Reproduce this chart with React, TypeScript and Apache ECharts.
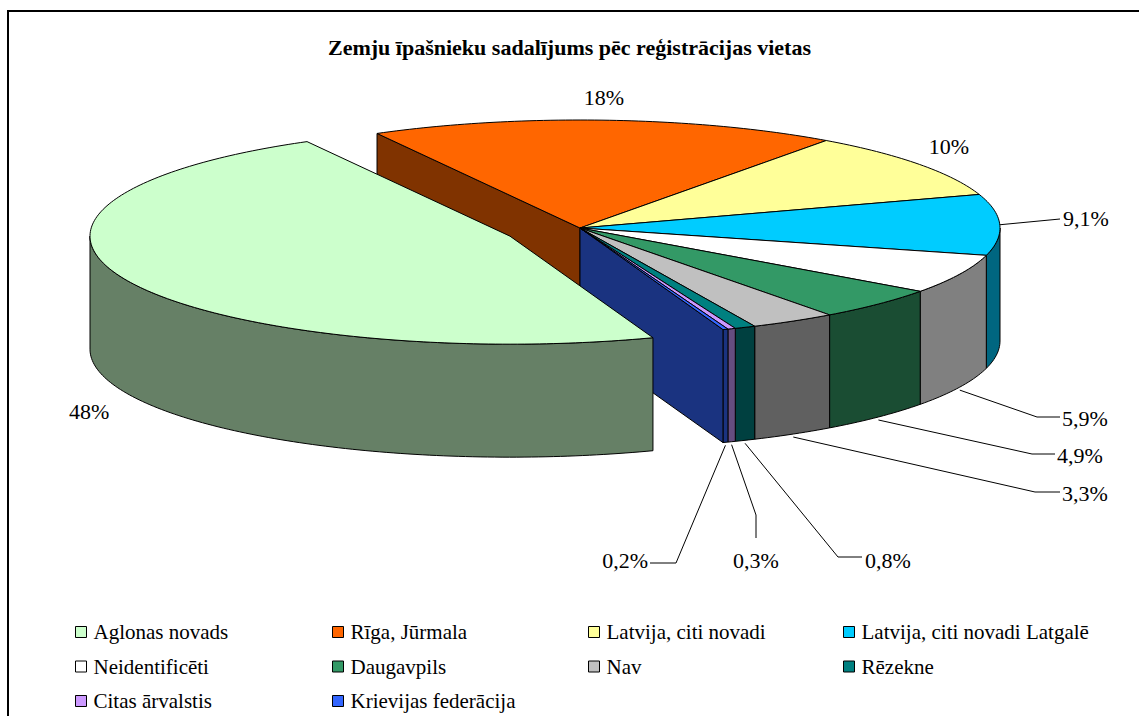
import React, { useEffect, useRef } from "react";
import * as echarts from "echarts";

// ---------- data ----------
const TITLE = "Zemju īpašnieku sadalījums pēc reģistrācijas vietas";
const CATEGORIES = [
  "Aglonas novads",
  "Rīga, Jūrmala",
  "Latvija, citi novadi",
  "Latvija, citi novadi Latgalē",
  "Neidentificēti",
  "Daugavpils",
  "Nav",
  "Rēzekne",
  "Citas ārvalstis",
  "Krievijas federācija",
];
const VALUES = [47.5, 18, 10, 9.1, 5.9, 4.9, 3.3, 0.8, 0.3, 0.2];
const COLORS = [
  "#CCFFCC",
  "#FF6600",
  "#FFFF99",
  "#00CCFF",
  "#FFFFFF",
  "#339966",
  "#C0C0C0",
  "#008080",
  "#CC99FF",
  "#3366FF",
];
const EXPLODE = [0.183, 0, 0, 0, 0, 0, 0, 0, 0, 0];

// ---------- layout ----------
const FONT = "Liberation Serif";
const PIE = { cx: 580, cy: 228, rx: 420, ry: 108, depth: 113, startAngle: 160.1 };
const LEGEND_COLUMNS = [
  [0, 4, 8],
  [1, 5, 9],
  [2, 6],
  [3, 7],
];
const LEGEND_X = [75, 332, 588, 843];
type LabelLayout = {
  x: number;
  y: number;
  align: "left" | "center" | "right";
  anchor?: "top" | "bottom";
  path?: number[][];
};
const LABEL_LAYOUT: LabelLayout[] = [
  { x: 69, y: 411, align: "left" },
  { x: 604, y: 97, align: "center" },
  { x: 949, y: 146, align: "center" },
  { x: 1063, y: 218, align: "left", anchor: "top", path: [[1060, 219]] },
  { x: 1062, y: 418, align: "left", anchor: "bottom", path: [[1037, 417], [1060, 417]] },
  { x: 1057, y: 455, align: "left", anchor: "bottom", path: [[1032, 454], [1055, 454]] },
  { x: 1062, y: 493, align: "left", anchor: "bottom", path: [[1035, 492], [1060, 492]] },
  { x: 865, y: 560, align: "left", anchor: "bottom", path: [[838, 557], [862, 557]] },
  { x: 756, y: 560, align: "center", anchor: "bottom", path: [[756, 515], [756, 538]] },
  { x: 648, y: 560, align: "right", anchor: "bottom", path: [[676, 563], [650, 563]] },
];

function shade(hex: string): string {
  const n = parseInt(hex.slice(1), 16);
  const r = Math.round(((n >> 16) & 255) / 2);
  const g = Math.round(((n >> 8) & 255) / 2);
  const b = Math.round((n & 255) / 2);
  return "rgb(" + r + "," + g + "," + b + ")";
}

function formatPct(v: number, total: number): string {
  const p = (v / total) * 100;
  const s = p >= 10 ? String(Math.round(p)) : p.toFixed(1);
  return s.replace(".", ",") + "%";
}

const TOTAL = VALUES.reduce((a, b) => a + b, 0);
const SLICES = (() => {
  let cum = 0;
  return VALUES.map((v, i) => {
    const a0 = PIE.startAngle + (cum / TOTAL) * 360;
    cum += v;
    const a1 = PIE.startAngle + (cum / TOTAL) * 360;
    const mid = (a0 + a1) / 2;
    const mr = (mid * Math.PI) / 180;
    const d = EXPLODE[i];
    return {
      a0,
      a1,
      mid,
      ox: PIE.rx * d * Math.sin(mr),
      oy: -PIE.ry * d * Math.cos(mr),
      exploded: d > 0,
    };
  });
})();

function pt(a: number, ox: number, oy: number, down: boolean): number[] {
  const r = (a * Math.PI) / 180;
  return [
    PIE.cx + ox + PIE.rx * Math.sin(r),
    PIE.cy + oy - PIE.ry * Math.cos(r) + (down ? PIE.depth : 0),
  ];
}

function arcPts(a0: number, a1: number, ox: number, oy: number, down: boolean): number[][] {
  const n = Math.max(1, Math.ceil(Math.abs(a1 - a0) / 1));
  const out: number[][] = [];
  for (let k = 0; k <= n; k++) out.push(pt(a0 + ((a1 - a0) * k) / n, ox, oy, down));
  return out;
}

function renderSlice(i: number) {
  const s = SLICES[i];
  const n = SLICES.length;
  const top = COLORS[i];
  const side = shade(top);
  const base = s.exploded ? 10 : 0;
  const edge = { stroke: "#000", lineWidth: 1, lineJoin: "round" as const };
  const children: any[] = [];
  const c0 = [PIE.cx + s.ox, PIE.cy + s.oy];
  const c1 = [PIE.cx + s.ox, PIE.cy + s.oy + PIE.depth];

  // outer wall (front half only)
  for (let k = -1; k <= 2; k++) {
    const lo = 90 + 360 * k;
    const hi = 270 + 360 * k;
    const a = Math.max(s.a0, lo);
    const b = Math.min(s.a1, hi);
    if (b > a) {
      const pts = arcPts(a, b, s.ox, s.oy, false).concat(arcPts(b, a, s.ox, s.oy, true));
      children.push({
        type: "polygon",
        shape: { points: pts },
        style: { fill: side, ...edge },
        z2: base + 1,
      });
    }
  }
  // radial faces at gaps
  const prev = SLICES[(i - 1 + n) % n];
  const next = SLICES[(i + 1) % n];
  if ((s.exploded || prev.exploded) && Math.sin((s.a0 * Math.PI) / 180) < 0) {
    const p0 = pt(s.a0, s.ox, s.oy, false);
    const p1 = pt(s.a0, s.ox, s.oy, true);
    children.push({
      type: "polygon",
      shape: { points: [c0, p0, p1, c1] },
      style: { fill: side, ...edge },
      z2: base + 2,
    });
  }
  if ((s.exploded || next.exploded) && Math.sin((s.a1 * Math.PI) / 180) > 0) {
    const p0 = pt(s.a1, s.ox, s.oy, false);
    const p1 = pt(s.a1, s.ox, s.oy, true);
    children.push({
      type: "polygon",
      shape: { points: [c0, p0, p1, c1] },
      style: { fill: side, ...edge },
      z2: base + 2,
    });
  }
  // top face
  children.push({
    type: "polygon",
    shape: { points: [c0].concat(arcPts(s.a0, s.a1, s.ox, s.oy, false)) },
    style: { fill: top, ...edge },
    z2: base + 3,
  });

  // label
  const L = LABEL_LAYOUT[i];
  if (L.anchor && L.path) {
    const anc = pt(s.mid, s.ox, s.oy, L.anchor === "bottom");
    if (L.anchor === "bottom") anc[1] += 3;
    children.push({
      type: "polyline",
      shape: { points: [anc].concat(L.path) },
      style: { stroke: "#000", lineWidth: 1, fill: null },
      z2: 50,
    });
  }
  children.push({
    type: "text",
    x: L.x,
    y: L.y,
    style: {
      text: formatPct(VALUES[i], TOTAL),
      fill: "#000",
      font: "22px " + FONT,
      fontFamily: FONT,
      fontSize: 22,
      align: L.align,
      verticalAlign: "middle",
    },
    z2: 60,
  });

  return { type: "group", children };
}

export default function App() {
  const ref = useRef<HTMLDivElement>(null);
  useEffect(() => {
    document.body.style.margin = "0";
    const chart = echarts.init(ref.current!, undefined, { renderer: "svg" });
    chart.setOption({
      animation: false,
      backgroundColor: "#FFFFFF",
      textStyle: { fontFamily: FONT },
      title: {
        text: TITLE,
        left: "center",
        top: 36,
        padding: 0,
        textStyle: { fontFamily: FONT, fontSize: 22, fontWeight: "bold", color: "#000" },
      },
      legend: LEGEND_COLUMNS.map((col, c) => ({
        data: col.map((i) => CATEGORIES[i]),
        orient: "vertical",
        left: LEGEND_X[c],
        top: 620,
        padding: 0,
        itemWidth: 11,
        itemHeight: 11,
        itemGap: 10.5,
        icon: "rect",
        selectedMode: false,
        itemStyle: { borderColor: "#000", borderWidth: 1 },
        textStyle: {
          fontFamily: FONT,
          fontSize: 21,
          color: "#000",
          lineHeight: 24,
          padding: [0, 0, 0, 2],
        },
      })),
      graphic: [
        {
          type: "rect",
          shape: { x: 8, y: 11, width: 1300, height: 900 },
          style: { fill: "none", stroke: "#000", lineWidth: 2 },
          silent: true,
        },
      ],
      series: CATEGORIES.map((name, i) => ({
        type: "custom",
        name,
        coordinateSystem: "none",
        data: [VALUES[i]],
        itemStyle: { color: COLORS[i] },
        silent: true,
        renderItem: () => renderSlice(i),
      })),
    });
    return () => chart.dispose();
  }, []);
  return <div ref={ref} style={{ width: 1139, height: 716 }} />;
}
